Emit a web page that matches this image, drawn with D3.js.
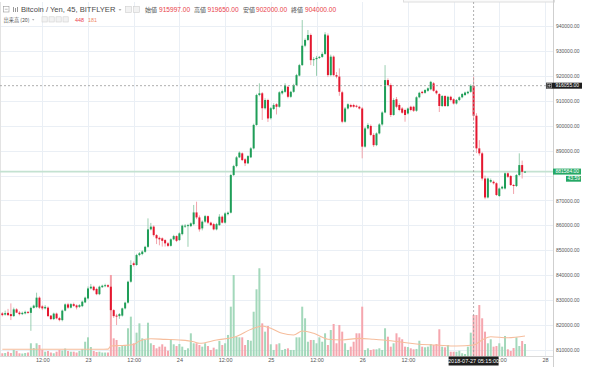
<!DOCTYPE html>
<html><head><meta charset="utf-8">
<script src="https://cdn.jsdelivr.net/npm/d3@7/dist/d3.min.js"></script>
<style>html,body{margin:0;padding:0;background:#fff}svg{display:block}</style>
</head><body><svg id="chart" width="600" height="367"></svg>
<script>
// ---------------- DATA ----------------
// 45-minute bars, first bar opens 2018-07-22 01:30. Prices in thousand yen.
const firstBarTime = "2018-07-22T01:30:00";
const barMinutes = 45;
const priceUnit = 1000;

const opens = [
824.7,824.2,824.9,824.4,823.6,826.3,825.0,824.4,824.7,825.3,
824.9,826.9,827.2,831.0,827.5,826.7,827.0,823.8,822.4,824.6,
822.8,822.0,825.8,828.3,827.0,828.4,827.9,827.3,827.6,829.1,
830.7,834.7,835.4,834.5,832.4,835.2,835.6,836.0,835.4,826.0,
823.8,823.6,823.8,826.7,829.0,837.4,844.8,844.1,848.1,848.5,
849.4,851.4,858.4,859.5,856.1,855.0,854.8,854.1,852.8,851.8,
854.4,855.7,854.1,856.5,859.5,859.9,859.7,860.5,865.2,863.2,
858.8,861.5,863.7,861.1,860.5,858.4,860.1,863.5,861.1,864.5,
865.1,880.2,883.8,887.3,888.9,886.5,884.9,887.3,890.9,900.3,
912.3,913.0,907.0,910.3,903.0,906.7,908.6,907.6,913.0,913.6,
915.6,911.6,913.6,916.3,920.1,924.3,932.1,934.4,936.4,926.3,
926.7,927.2,927.6,928.8,936.2,920.3,927.7,920.3,919.7,913.4,
901.6,906.9,908.3,908.3,908.0,907.6,906.9,891.6,898.9,899.9,
896.3,892.2,896.9,900.5,905.3,918.3,916.3,904.3,910.6,908.3,
906.9,906.3,904.9,907.6,907.6,906.0,911.4,913.6,913.2,914.0,
914.6,917.0,914.0,912.7,907.9,911.9,907.9,911.6,910.6,908.9,
910.3,911.4,912.3,913.0,913.6,915.997,904.0,890.9,888.9,878.8,
871.2,877.5,877.5,876.9,871.8,874.8,874.8,880.9,879.8,876.2,
875.8,880.2,884.2,881.5];

const highs = [
825.2,825.8,826.5,828.7,827.0,826.8,825.6,825.4,825.8,825.6,
827.4,828.2,833.0,831.5,828.0,828.0,827.5,824.0,825.0,825.0,
823.3,826.2,828.7,828.9,828.8,829.0,828.3,828.4,829.8,831.4,
835.5,836.5,835.8,835.0,835.8,836.2,836.6,836.4,840.1,826.4,
824.5,824.8,827.0,829.4,837.8,846.0,845.5,848.6,849.3,850.0,
851.8,862.8,861.0,860.0,856.5,855.5,855.2,854.5,853.3,854.8,
856.2,856.0,857.2,860.3,860.5,860.6,861.2,868.2,869.5,864.0,
862.0,864.2,864.0,861.5,861.0,861.0,864.5,864.0,865.3,865.6,
880.7,884.3,887.8,889.7,889.3,887.0,888.2,891.4,900.8,912.8,
917.0,913.5,911.0,910.8,907.5,909.0,909.0,913.8,914.5,917.0,
916.0,914.0,916.8,920.8,924.8,942.4,935.0,938.4,937.0,927.5,
928.0,928.0,929.5,937.5,937.0,928.5,928.2,921.5,923.0,914.0,
907.5,909.0,908.8,908.8,908.4,908.0,907.5,899.5,901.0,900.5,
897.0,897.3,901.0,905.8,924.3,919.0,917.0,911.0,911.5,909.0,
907.5,906.8,907.3,908.0,908.0,911.8,913.6,914.0,914.7,915.4,
918.0,917.5,914.4,913.1,912.3,912.3,912.0,912.0,911.0,910.7,
911.8,913.1,913.7,914.0,916.6,919.65,905.0,894.2,889.5,880.0,
879.2,878.8,878.0,877.3,875.2,875.9,881.3,881.3,880.2,876.6,
880.6,888.9,886.0,881.8];

const lows = [
823.5,823.8,823.6,822.0,823.3,824.8,823.9,824.0,824.3,824.5,
817.7,826.6,826.8,826.5,826.0,826.3,823.2,822.0,822.0,822.3,
821.5,821.5,825.5,826.5,826.7,827.3,826.3,826.9,827.2,828.8,
830.3,834.3,833.6,832.0,832.0,834.9,835.2,835.0,825.5,822.9,
820.0,822.5,823.4,826.3,828.6,837.0,843.5,843.8,847.6,848.0,
849.0,851.0,858.0,855.5,852.5,852.0,851.5,851.5,851.3,851.5,
854.0,853.3,853.8,856.0,859.0,851.4,859.3,860.0,862.5,857.5,
858.0,861.0,860.5,859.7,858.0,858.0,859.8,860.8,860.7,864.0,
864.8,879.8,883.3,887.0,885.8,883.8,884.6,887.0,890.5,900.0,
911.8,902.3,906.5,901.5,902.5,906.3,904.5,907.2,912.5,913.2,
911.0,911.2,913.2,916.0,919.8,924.0,931.5,934.0,924.3,924.0,
920.0,926.8,927.2,928.4,919.5,919.8,919.8,919.0,912.0,901.0,
901.2,906.5,907.2,907.2,907.2,906.5,886.9,891.2,898.5,895.8,
891.5,891.8,896.5,900.0,905.0,915.8,903.5,904.0,907.0,905.8,
904.8,901.6,904.5,905.8,905.5,905.6,911.0,912.6,912.8,913.6,
914.2,913.6,912.5,905.5,907.5,907.5,907.5,909.8,908.5,908.5,
909.9,911.0,911.9,912.6,913.2,902.0,889.0,888.0,878.0,870.5,
870.8,877.0,876.4,871.8,871.4,874.4,874.4,879.0,875.8,872.6,
875.4,879.8,878.8,881.2];

const closes = [
824.0,824.8,824.0,823.6,826.3,825.0,824.4,824.9,825.3,824.9,
826.9,827.8,831.0,827.0,826.7,827.3,823.6,822.4,824.6,822.7,
822.0,825.8,828.3,827.0,828.4,827.7,827.1,828.0,829.4,831.0,
834.7,835.4,834.0,832.4,835.4,835.8,836.0,835.4,826.0,823.6,
823.5,824.4,826.7,829.0,837.4,844.1,844.1,848.1,848.8,849.5,
851.4,858.4,859.5,856.1,854.8,854.4,853.8,852.8,851.8,854.4,
855.7,853.8,856.8,859.9,859.9,860.1,860.8,865.2,863.2,858.4,
861.5,863.7,861.1,860.1,858.4,860.5,863.5,861.1,864.8,865.1,
880.2,883.8,887.3,889.2,886.2,884.9,887.8,890.9,900.3,912.3,
913.0,907.0,910.3,902.9,907.0,908.3,907.6,913.4,913.9,916.3,
911.6,913.6,916.3,920.3,924.3,932.1,934.4,936.4,926.3,926.7,
927.2,927.6,928.8,936.6,920.3,927.7,920.3,919.7,913.6,901.6,
906.9,908.6,907.6,907.6,907.6,906.9,891.6,898.9,900.3,896.3,
892.2,896.9,900.5,905.3,918.3,916.3,904.3,910.3,907.6,906.3,
905.2,904.3,906.9,906.3,906.0,911.4,913.2,913.1,914.3,915.0,
917.6,914.0,913.0,907.9,911.9,907.9,911.6,910.3,908.9,910.3,
911.4,912.7,913.3,913.6,916.0,904.0,890.9,888.9,878.8,871.2,
878.8,878.2,876.9,872.2,874.8,875.5,880.9,879.5,876.2,875.8,
880.2,884.2,881.5,881.584];

const volumes = [
30,33,47,33,66,55,30,27,33,38,
139,87,139,120,66,47,55,38,30,47,
66,60,82,55,47,47,38,55,77,156,
204,98,55,44,47,38,38,38,885,193,
175,98,109,109,303,430,139,255,357,193,
175,364,139,120,84,102,128,102,58,183,
128,109,131,102,66,84,248,139,139,120,
102,139,109,66,91,73,164,120,139,230,
539,885,211,204,204,120,175,167,484,729,
959,357,266,328,128,66,128,139,66,77,
84,66,66,204,204,539,412,156,175,175,
139,204,156,248,120,284,350,139,339,266,
139,66,102,156,248,248,539,66,84,66,
73,73,84,66,303,211,102,139,248,204,
183,102,98,84,73,77,167,102,95,102,
131,120,131,292,102,95,120,47,47,47,
58,30,22,102,255,448,448,557,412,266,
139,183,102,109,139,102,219,73,55,87,
204,109,164,131];

// Volume moving average (20): bar index -> value
const maIndex  = [0, 17, 34, 37, 38, 42, 46, 48, 52, 57, 62, 67, 69, 75, 81, 88, 91, 94, 98, 102, 105, 109, 114, 119, 125, 130, 136, 139, 145, 152, 159, 165, 168, 171, 177, 183];
const maValues = [73, 73, 73, 75, 110, 115, 125, 164, 189, 182, 175, 156, 139, 175, 204, 303, 328, 303, 248, 230, 273, 248, 183, 175, 193, 183, 167, 156, 131, 120, 109, 120, 175, 211, 200, 219];

const yTickValues = [940000,930000,920000,910000,900000,890000,880000,870000,860000,850000,840000,830000,820000,810000];
const xTickTimes  = ["2018-07-22T12:00","2018-07-23T00:00","2018-07-23T12:00","2018-07-24T00:00","2018-07-24T12:00","2018-07-25T00:00","2018-07-25T12:00","2018-07-26T00:00","2018-07-26T12:00","2018-07-27T00:00","2018-07-27T12:00","2018-07-28T00:00"];
const xTickLabels = ["12:00","23","12:00","24","12:00","25","12:00","26","12:00","27","12:00","28"];

const symbolTitle = "Bitcoin / Yen, 45, BITFLYER";
const ohlcLabels = ["始値","高値","安値","終値"];
const ohlcValues = ["915997.00","919650.00","902000.00","904000.00"];
const volumeTitle = "出来高 (20)";
const volumeValues = ["448","181"];
const lastPrice = 881584, lastPriceTimer = "43:59";
const crossPrice = 916055, crossTime = "2018-07-27T05:15:00", crossTimeLabel = "2018-07-27 05:15:00";

// ---------------- DRAW ----------------
const svg = d3.select("#chart");
const plotL = 0, plotR = 553, plotT = 2, plotB = 356;
const LAT = "'Liberation Sans', Arial, sans-serif";
const CJK = "'Noto Sans CJK JP', sans-serif";
const UP = "#1f9e58", DOWN = "#e4172f";
const UPW = "#8fcaa8", DOWNW = "#f09aa3";
const UPV = "#a3d8bb", DOWNV = "#f5a6ae";

const t0 = new Date(firstBarTime);
const bars = opens.map((o, i) => ({
  t: d3.timeMinute.offset(t0, i * barMinutes),
  o: o * priceUnit, h: highs[i] * priceUnit, l: lows[i] * priceUnit, c: closes[i] * priceUnit,
  v: volumes[i]
}));

const x = d3.scaleTime().domain([new Date("2018-07-23T00:00:00"), new Date("2018-07-28T00:00:00")]).range([88, 545]);
const y = d3.scaleLinear().domain([810000, 940000]).range([350, 26]);
const yv = d3.scaleLinear().domain([0, 1000]).range([plotB, plotB - 91.5]);

svg.append("rect").attr("width", 600).attr("height", 367).attr("fill", "#fff");

// grid
const grid = svg.append("g");
grid.selectAll(".vg").data(xTickTimes).join("line")
  .attr("x1", d => Math.round(x(new Date(d))) + 0.5).attr("x2", d => Math.round(x(new Date(d))) + 0.5)
  .attr("y1", plotT).attr("y2", plotB).attr("stroke", "#eaeff5").attr("stroke-width", 1);
grid.selectAll(".hg").data(yTickValues).join("line")
  .attr("x1", plotL).attr("x2", plotR)
  .attr("y1", d => Math.round(y(d)) + 0.5).attr("y2", d => Math.round(y(d)) + 0.5)
  .attr("stroke", "#eaeff5").attr("stroke-width", 1);

// top frame bit and left border
svg.append("line").attr("x1", 0.5).attr("x2", 0.5).attr("y1", plotT).attr("y2", plotB).attr("stroke", "#e3e3e3");
svg.append("rect").attr("x", 403.5).attr("y", -1).attr("width", 151).attr("height", 3).attr("fill", "#fafafa").attr("stroke", "#dedede");

svg.append("clipPath").attr("id", "plot").append("rect")
  .attr("x", plotL).attr("y", plotT).attr("width", plotR - plotL).attr("height", plotB - plotT);
const plot = svg.append("g").attr("clip-path", "url(#plot)");

// last price line
plot.append("line").attr("x1", plotL).attr("x2", plotR)
  .attr("y1", y(lastPrice)).attr("y2", y(lastPrice))
  .attr("stroke", "#c4e2d1").attr("stroke-width", 1.6);

// volume bars
plot.selectAll(".vol").data(bars).join("rect")
  .attr("x", d => x(d.t) - 1).attr("width", 2)
  .attr("y", d => yv(d.v)).attr("height", d => plotB - yv(d.v))
  .attr("fill", d => d.c >= d.o ? UPV : DOWNV);

// volume MA line
const maLine = d3.line().curve(d3.curveMonotoneX)
  .x((d, i) => x(bars[d].t)).y((d, i) => yv(maValues[i]));
plot.append("path").attr("d", maLine(maIndex))
  .attr("fill", "none").attr("stroke", "#f6bd9c").attr("stroke-width", 1.1);

// candles: wicks then bodies
plot.selectAll(".wick").data(bars).join("line")
  .attr("x1", d => x(d.t)).attr("x2", d => x(d.t))
  .attr("y1", d => y(d.h)).attr("y2", d => y(d.l))
  .attr("stroke", d => d.c >= d.o ? UPW : DOWNW).attr("stroke-width", 0.9);
plot.selectAll(".body").data(bars).join("rect")
  .attr("x", d => x(d.t) - 1).attr("width", 2)
  .attr("y", d => y(Math.max(d.o, d.c)))
  .attr("height", d => Math.max(1, Math.abs(y(d.o) - y(d.c))))
  .attr("fill", d => d.c >= d.o ? UP : DOWN);

// crosshair
const cx = x(new Date(crossTime)), cy = y(crossPrice);
svg.append("line").attr("x1", cx).attr("x2", cx).attr("y1", plotT).attr("y2", plotB)
  .attr("stroke", "#9a9a9a").attr("stroke-width", 0.8).attr("stroke-dasharray", "2,2");
svg.append("line").attr("x1", plotL).attr("x2", 546).attr("y1", cy).attr("y2", cy)
  .attr("stroke", "#9a9a9a").attr("stroke-width", 0.8).attr("stroke-dasharray", "2,2");

// axes frame
svg.append("line").attr("x1", plotR + 0.5).attr("x2", plotR + 0.5).attr("y1", 0).attr("y2", 367).attr("stroke", "#cfcfcf");
svg.append("line").attr("x1", 0).attr("x2", plotR).attr("y1", plotB + 0.5).attr("y2", plotB + 0.5).attr("stroke", "#d9d9d9");

// y axis (the label hidden under the last-price tag in the reference is not drawn)
const lp = y(lastPrice);
const yAxis = d3.axisRight(y).tickValues(yTickValues.filter(v => Math.abs(y(v) - lp) > 7))
  .tickFormat(d3.format(".2f")).tickSize(0).tickPadding(0);
const ya = svg.append("g").attr("transform", `translate(${plotR + 3},0)`).call(yAxis);
ya.select(".domain").remove();
ya.selectAll("text").attr("font-family", LAT).attr("font-size", 5).attr("fill", "#555");

// x axis (the day label fully hidden under the crosshair time tag is not drawn)
const cx0 = x(new Date(crossTime));
const xTicks = xTickTimes.map((d, i) => ({ t: new Date(d), label: xTickLabels[i] }))
  .filter(d => Math.abs(x(d.t) - cx0) > 22);
const xAxis = d3.axisBottom(x).tickValues(xTicks.map(d => d.t))
  .tickFormat((d, i) => xTicks[i].label).tickSize(0).tickPadding(0);
const xa = svg.append("g").attr("transform", `translate(0,${plotB + 2.5})`).call(xAxis);
xa.select(".domain").remove();
xa.selectAll("text").attr("font-family", LAT).attr("font-size", 5.5).attr("fill", "#555");

// price labels on axis
svg.append("rect").attr("x", plotR).attr("y", lp - 3).attr("width", 28).attr("height", 6).attr("fill", "#25a865");
svg.append("text").attr("x", plotR + 2.5).attr("y", lp + 1.8).text(d3.format(".2f")(lastPrice))
  .attr("font-family", LAT).attr("font-size", 5).attr("fill", "#fff");
svg.append("rect").attr("x", 566).attr("y", lp + 4.3).attr("width", 15).attr("height", 5.8).attr("fill", "#25a865");
svg.append("text").attr("x", 567.5).attr("y", lp + 8.9).text(lastPriceTimer)
  .attr("font-family", LAT).attr("font-size", 5).attr("fill", "#fff");

svg.append("rect").attr("x", 546).attr("y", cy - 3).attr("width", 36).attr("height", 6).attr("fill", "#1e1e1e");
svg.append("rect").attr("x", 547).attr("y", cy - 2.2).attr("width", 4.5).attr("height", 4.5).attr("fill", "none").attr("stroke", "#ddd").attr("stroke-width", 0.5);
svg.append("path").attr("d", `M547.8,${cy}h3M549.3,${cy - 1.5}v3`).attr("stroke", "#fff").attr("stroke-width", 0.5);
svg.append("text").attr("x", plotR + 2.5).attr("y", cy + 1.8).text(d3.format(".2f")(crossPrice))
  .attr("font-family", LAT).attr("font-size", 5).attr("fill", "#fff");

// crosshair time label
svg.append("rect").attr("x", cx - 25).attr("y", plotB + 0.5).attr("width", 50).attr("height", 9).attr("fill", "#1e1e1e");
svg.append("text").attr("x", cx).attr("y", plotB + 7).attr("text-anchor", "middle").text(crossTimeLabel)
  .attr("font-family", LAT).attr("font-size", 5.5).attr("fill", "#fff");

// ---------------- HEADER ----------------
const hd = svg.append("g");
hd.append("rect").attr("x", 3.5).attr("y", 6.5).attr("width", 5.5).attr("height", 5.5).attr("fill", "none").attr("stroke", "#999").attr("stroke-width", 0.6);
hd.append("line").attr("x1", 4.8).attr("x2", 7.7).attr("y1", 9.25).attr("y2", 9.25).attr("stroke", "#999").attr("stroke-width", 0.6);
[13, 15, 17].forEach((bx, k) => hd.append("rect").attr("x", bx).attr("y", 7 + (k % 2)).attr("width", 1).attr("height", 5 - (k % 2)).attr("fill", "#999"));
hd.append("text").attr("x", 21).attr("y", 12.3).text(symbolTitle)
  .attr("font-family", LAT).attr("font-size", 7.6).attr("fill", "#4a4a4a");
hd.append("path").attr("d", "M118.5,9.2h3l-1.5,1.6z").attr("fill", "#999");
[125.5, 133.5].forEach(bx => hd.append("rect").attr("x", bx).attr("y", 6.5).attr("width", 6).attr("height", 6)
  .attr("fill", "#f2f2f2").attr("stroke", "#cfcfcf").attr("stroke-width", 0.6));
const labX = [145, 194, 243, 291], valX = [159, 207.5, 256, 305];
ohlcLabels.forEach((l, i) => {
  hd.append("text").attr("x", labX[i]).attr("y", 12.3).text(l).attr("font-family", CJK).attr("font-size", 6).attr("fill", "#555");
  hd.append("text").attr("x", valX[i]).attr("y", 12.3).text(ohlcValues[i]).attr("font-family", LAT).attr("font-size", 6.6).attr("fill", "#e9424c");
});
hd.append("text").attr("x", 3.5).attr("y", 21.5).text(volumeTitle).attr("font-family", CJK).attr("font-size", 5.2).attr("fill", "#555");
hd.append("path").attr("d", "M32,19.2h2.4l-1.2,1.3z").attr("fill", "#999");
[42, 49, 56, 63].forEach(bx => hd.append("rect").attr("x", bx).attr("y", 16.8).attr("width", 5.2).attr("height", 5.2)
  .attr("fill", "#f2f2f2").attr("stroke", "#cfcfcf").attr("stroke-width", 0.6));
hd.append("text").attr("x", 75).attr("y", 21.5).text(volumeValues[0]).attr("font-family", LAT).attr("font-size", 5.4).attr("fill", "#e9424c");
hd.append("text").attr("x", 88).attr("y", 21.5).text(volumeValues[1]).attr("font-family", LAT).attr("font-size", 5.4).attr("fill", "#f08a66");
</script></body></html>
